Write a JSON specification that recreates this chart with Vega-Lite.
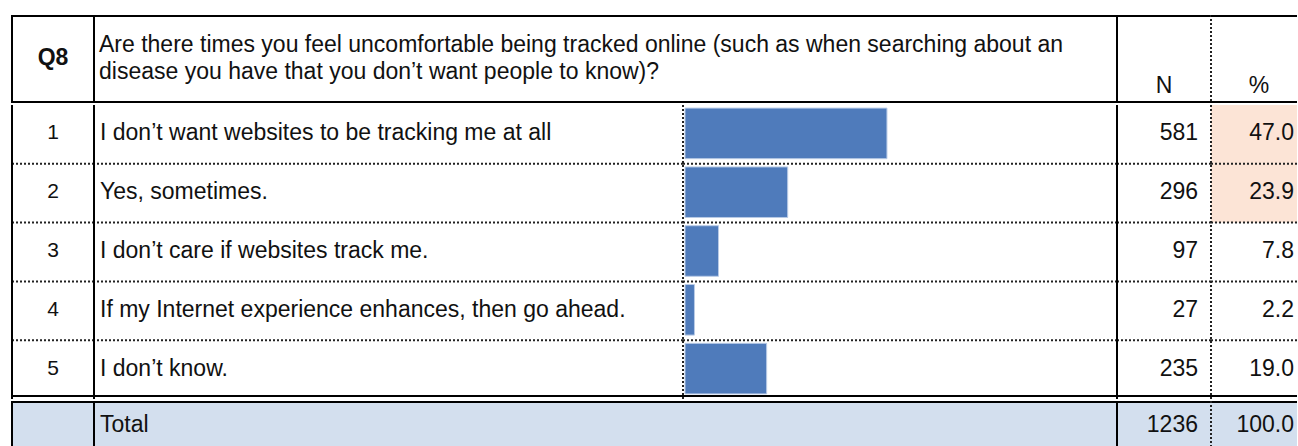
{
  "$schema": "https://vega.github.io/schema/vega-lite/v6.json",
  "padding": {"left": 11, "top": 14, "right": 0, "bottom": 0},
  "config": {
    "view": {"stroke": null},
    "text": {"font": "Liberation Sans", "fontSize": 23, "color": "#111111"},
    "concat": {"spacing": 0}
  },
  "datasets": {
    "header": [
      {"q": "Q8", "question": "\u00a0Are there times you feel uncomfortable being tracked online (such as when searching about an\ndisease you have that you don’t want people to know)?", "ncol": "N", "pcol": "%"}
    ],
    "items": [
      {"no": 1, "label": "I don’t want websites to be tracking me at all", "n": 581, "pct": 47.0},
      {"no": 2, "label": "Yes, sometimes.", "n": 296, "pct": 23.9},
      {"no": 3, "label": "I don’t care if websites track me.", "n": 97, "pct": 7.8},
      {"no": 4, "label": "If my Internet experience enhances, then go ahead.", "n": 27, "pct": 2.2},
      {"no": 5, "label": "I don’t know.", "n": 235, "pct": 19.0}
    ],
    "total": [
      {"label": "Total", "n": 1236, "pct": 100.0}
    ]
  },
  "spacing": 0,
  "vconcat": [
    {
      "spacing": 0,
      "bounds": "flush",
      "hconcat": [
        {
          "width": 82, "height": 88, "data": {"name": "header"},
          "layer": [
            {"mark": {"type": "text", "fontWeight": "bold", "baseline": "middle", "dy": -1}, "encoding": {"text": {"field": "q"}}},
            {"mark": {"type": "rule", "color": "#000", "strokeWidth": 2}, "encoding": {"x": {"value": 0}}},
            {"mark": {"type": "rule", "color": "#000", "strokeWidth": 2, "yOffset": 1}, "encoding": {"y": {"value": 0}}},
            {"mark": {"type": "rule", "color": "#000", "strokeWidth": 2, "yOffset": -1}, "encoding": {"y": {"value": "height"}}}
          ]
        },
        {
          "width": 1023, "height": 88, "data": {"name": "header"},
          "layer": [
            {"mark": {"type": "text", "align": "left", "baseline": "middle", "lineBreak": "\n", "lineHeight": 27, "dx": 5, "dy": -14}, "encoding": {"x": {"value": 0}, "text": {"field": "question"}}},
            {"mark": {"type": "rule", "color": "#000", "strokeWidth": 2}, "encoding": {"x": {"value": 0}}},
            {"mark": {"type": "rule", "color": "#000", "strokeWidth": 2, "yOffset": 1}, "encoding": {"y": {"value": 0}}},
            {"mark": {"type": "rule", "color": "#000", "strokeWidth": 2, "yOffset": -1}, "encoding": {"y": {"value": "height"}}}
          ]
        },
        {
          "width": 94, "height": 88, "data": {"name": "header"},
          "layer": [
            {"mark": {"type": "text", "baseline": "bottom", "dy": -5}, "encoding": {"y": {"value": "height"}, "text": {"field": "ncol"}}},
            {"mark": {"type": "rule", "color": "#000", "strokeWidth": 2}, "encoding": {"x": {"value": 0}}},
            {"mark": {"type": "rule", "color": "#000", "strokeWidth": 2, "yOffset": 1}, "encoding": {"y": {"value": 0}}},
            {"mark": {"type": "rule", "color": "#000", "strokeWidth": 2, "yOffset": -1}, "encoding": {"y": {"value": "height"}}}
          ]
        },
        {
          "width": 86, "height": 88, "data": {"name": "header"},
          "layer": [
            {"mark": {"type": "text", "baseline": "bottom", "dy": -5, "dx": 5}, "encoding": {"y": {"value": "height"}, "text": {"field": "pcol"}}},
            {"mark": {"type": "rule", "color": "#222", "strokeWidth": 2, "strokeDash": [2, 2]}, "encoding": {"x": {"value": 0}}},
            {"mark": {"type": "rule", "color": "#000", "strokeWidth": 2, "yOffset": 1}, "encoding": {"y": {"value": 0}}},
            {"mark": {"type": "rule", "color": "#000", "strokeWidth": 2, "yOffset": -1}, "encoding": {"y": {"value": "height"}}}
          ]
        }
      ]
    },
    {
      "spacing": 0,
      "bounds": "flush",
      "hconcat": [
        {
          "width": 82, "height": 294, "data": {"name": "items"},
          "layer": [
            {"mark": {"type": "text", "baseline": "middle", "fontSize": 21, "dy": -1}, "encoding": {"y": {"field": "no", "type": "ordinal", "axis": null, "scale": {"type": "band", "paddingInner": 0, "paddingOuter": 0}}, "text": {"field": "no"}}},
            {"transform": [{"filter": "datum.no > 1"}], "mark": {"type": "rule", "color": "#222", "strokeWidth": 2, "strokeDash": [2, 2]}, "encoding": {"y": {"field": "no", "type": "ordinal", "bandPosition": 0}}},
            {"transform": [{"filter": "datum.no == 5"}], "mark": {"type": "rule", "color": "#000", "strokeWidth": 2, "yOffset": -3}, "encoding": {"y": {"field": "no", "type": "ordinal", "bandPosition": 1}}},
            {"transform": [{"filter": "datum.no == 1"}], "mark": {"type": "rule", "color": "#000", "strokeWidth": 2}, "encoding": {"x": {"value": 0}}}
          ]
        },
        {
          "width": 589, "height": 294, "data": {"name": "items"},
          "layer": [
            {"mark": {"type": "text", "align": "left", "baseline": "middle", "dx": 6, "dy": -1}, "encoding": {"y": {"field": "no", "type": "ordinal", "axis": null, "scale": {"type": "band", "paddingInner": 0, "paddingOuter": 0}}, "x": {"value": 0}, "text": {"field": "label"}}},
            {"transform": [{"filter": "datum.no > 1"}], "mark": {"type": "rule", "color": "#222", "strokeWidth": 2, "strokeDash": [2, 2]}, "encoding": {"y": {"field": "no", "type": "ordinal", "bandPosition": 0}}},
            {"transform": [{"filter": "datum.no == 5"}], "mark": {"type": "rule", "color": "#000", "strokeWidth": 2, "yOffset": -3}, "encoding": {"y": {"field": "no", "type": "ordinal", "bandPosition": 1}}},
            {"transform": [{"filter": "datum.no == 1"}], "mark": {"type": "rule", "color": "#000", "strokeWidth": 2}, "encoding": {"x": {"value": 0}}}
          ]
        },
        {
          "width": 434, "height": 294, "data": {"name": "items"},
          "layer": [
            {"mark": {"type": "bar", "color": "#4f7bbb", "stroke": "#b9cbe6", "strokeWidth": 1, "height": {"band": 0.86}, "xOffset": 2, "yOffset": -1}, "encoding": {"y": {"field": "no", "type": "ordinal", "axis": null, "scale": {"type": "band", "paddingInner": 0, "paddingOuter": 0}}, "x": {"field": "pct", "type": "quantitative", "axis": null, "scale": {"domain": [0, 101], "nice": false}}}},
            {"transform": [{"filter": "datum.no > 1"}], "mark": {"type": "rule", "color": "#222", "strokeWidth": 2, "strokeDash": [2, 2]}, "encoding": {"y": {"field": "no", "type": "ordinal", "bandPosition": 0}}},
            {"transform": [{"filter": "datum.no == 5"}], "mark": {"type": "rule", "color": "#000", "strokeWidth": 2, "yOffset": -3}, "encoding": {"y": {"field": "no", "type": "ordinal", "bandPosition": 1}}},
            {"transform": [{"filter": "datum.no == 1"}], "mark": {"type": "rule", "color": "#222", "strokeWidth": 2, "strokeDash": [2, 2]}, "encoding": {"x": {"value": 0}}}
          ]
        },
        {
          "width": 94, "height": 294, "data": {"name": "items"},
          "layer": [
            {"mark": {"type": "text", "align": "right", "baseline": "middle", "dx": -13, "dy": -1}, "encoding": {"y": {"field": "no", "type": "ordinal", "axis": null, "scale": {"type": "band", "paddingInner": 0, "paddingOuter": 0}}, "x": {"value": "width"}, "text": {"field": "n", "format": "d"}}},
            {"transform": [{"filter": "datum.no > 1"}], "mark": {"type": "rule", "color": "#222", "strokeWidth": 2, "strokeDash": [2, 2]}, "encoding": {"y": {"field": "no", "type": "ordinal", "bandPosition": 0}}},
            {"transform": [{"filter": "datum.no == 5"}], "mark": {"type": "rule", "color": "#000", "strokeWidth": 2, "yOffset": -3}, "encoding": {"y": {"field": "no", "type": "ordinal", "bandPosition": 1}}},
            {"transform": [{"filter": "datum.no == 1"}], "mark": {"type": "rule", "color": "#000", "strokeWidth": 2}, "encoding": {"x": {"value": 0}}}
          ]
        },
        {
          "width": 86, "height": 294, "data": {"name": "items"},
          "layer": [
            {"transform": [{"filter": "datum.pct > 20"}], "mark": {"type": "rect", "color": "#fce4d6"}, "encoding": {"y": {"field": "no", "type": "ordinal", "axis": null, "scale": {"type": "band", "paddingInner": 0, "paddingOuter": 0}}}},
            {"mark": {"type": "text", "align": "right", "baseline": "middle", "dx": -3, "dy": -1}, "encoding": {"y": {"field": "no", "type": "ordinal"}, "x": {"value": "width"}, "text": {"field": "pct", "format": ".1f"}}},
            {"transform": [{"filter": "datum.no > 1"}], "mark": {"type": "rule", "color": "#222", "strokeWidth": 2, "strokeDash": [2, 2]}, "encoding": {"y": {"field": "no", "type": "ordinal", "bandPosition": 0}}},
            {"transform": [{"filter": "datum.no == 5"}], "mark": {"type": "rule", "color": "#000", "strokeWidth": 2, "yOffset": -3}, "encoding": {"y": {"field": "no", "type": "ordinal", "bandPosition": 1}}},
            {"transform": [{"filter": "datum.no == 1"}], "mark": {"type": "rule", "color": "#222", "strokeWidth": 2, "strokeDash": [2, 2]}, "encoding": {"x": {"value": 0}}}
          ]
        }
      ]
    },
    {
      "spacing": 0,
      "bounds": "flush",
      "hconcat": [
        {
          "width": 82, "height": 48, "data": {"name": "total"}, "view": {"fill": "#d3dfee"},
          "layer": [
            {"mark": {"type": "rule", "color": "#000", "strokeWidth": 2, "yOffset": 1}, "encoding": {"y": {"value": 0}}},
            {"mark": {"type": "rule", "color": "#000", "strokeWidth": 2}, "encoding": {"x": {"value": 0}}}
          ]
        },
        {
          "width": 1023, "height": 48, "data": {"name": "total"}, "view": {"fill": "#d3dfee"},
          "layer": [
            {"mark": {"type": "text", "align": "left", "baseline": "middle", "dx": 6, "dy": 0}, "encoding": {"x": {"value": 0}, "text": {"field": "label"}}},
            {"mark": {"type": "rule", "color": "#000", "strokeWidth": 2, "yOffset": 1}, "encoding": {"y": {"value": 0}}},
            {"mark": {"type": "rule", "color": "#000", "strokeWidth": 2}, "encoding": {"x": {"value": 0}}}
          ]
        },
        {
          "width": 94, "height": 48, "data": {"name": "total"}, "view": {"fill": "#d3dfee"},
          "layer": [
            {"mark": {"type": "text", "align": "right", "baseline": "middle", "dx": -13, "dy": 0}, "encoding": {"x": {"value": "width"}, "text": {"field": "n", "format": "d"}}},
            {"mark": {"type": "rule", "color": "#000", "strokeWidth": 2, "yOffset": 1}, "encoding": {"y": {"value": 0}}},
            {"mark": {"type": "rule", "color": "#000", "strokeWidth": 2}, "encoding": {"x": {"value": 0}}}
          ]
        },
        {
          "width": 86, "height": 48, "data": {"name": "total"}, "view": {"fill": "#d3dfee"},
          "layer": [
            {"mark": {"type": "text", "align": "right", "baseline": "middle", "dx": -3, "dy": 0}, "encoding": {"x": {"value": "width"}, "text": {"field": "pct", "format": ".1f"}}},
            {"mark": {"type": "rule", "color": "#000", "strokeWidth": 2, "yOffset": 1}, "encoding": {"y": {"value": 0}}},
            {"mark": {"type": "rule", "color": "#222", "strokeWidth": 2, "strokeDash": [2, 2]}, "encoding": {"x": {"value": 0}}}
          ]
        }
      ]
    }
  ]
}
